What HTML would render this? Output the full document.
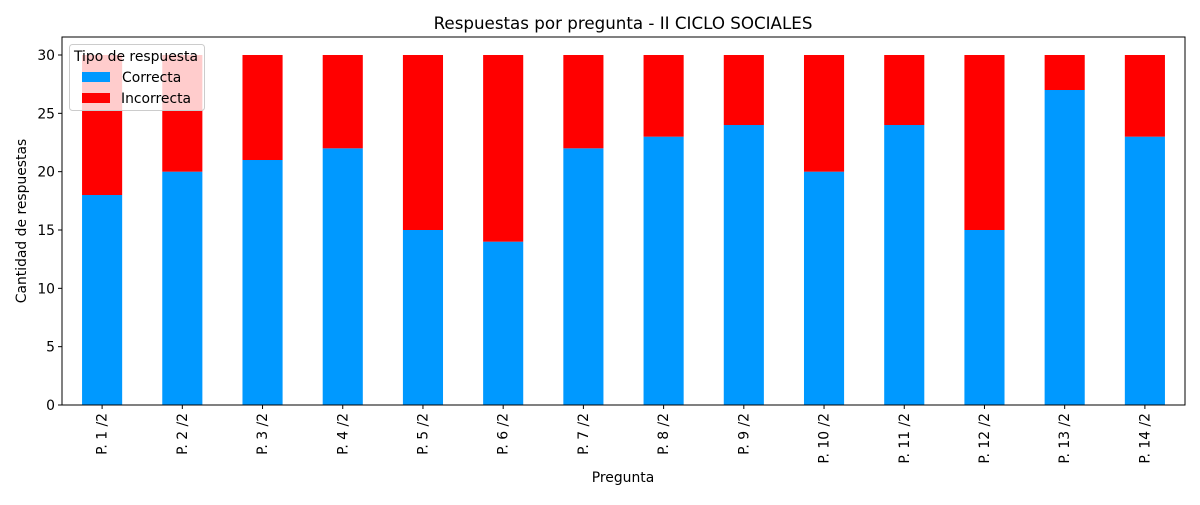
<!DOCTYPE html>
<html><head><meta charset="utf-8"><style>
body{margin:0;background:#fff;}
svg text{font-family:"DejaVu Sans","Liberation Sans",sans-serif;fill:#000;}
</style></head><body>
<svg id="chart" width="1200" height="500" viewBox="0 0 1200 500" xmlns="http://www.w3.org/2000/svg">
<rect width="1200" height="500" fill="#fff"/>
<text x="623" y="29" text-anchor="middle" font-size="16.7">Respuestas por pregunta - II CICLO SOCIALES</text>
<g id="bars"></g>
<g id="axes"></g>
<rect x="62" y="37" width="1123" height="368" fill="none" stroke="#000" stroke-width="1"/>
<text x="623" y="482" text-anchor="middle" font-size="13.9">Pregunta</text>
<text transform="translate(26,221) rotate(-90)" text-anchor="middle" font-size="13.9">Cantidad de respuestas</text>
<g>
<rect x="69.5" y="44.5" width="135" height="66" rx="3" fill="rgba(255,255,255,0.8)" stroke="#ccc"/>
<text x="74" y="61" font-size="13.9">Tipo de respuesta</text>
<rect x="82" y="72" width="28" height="10" fill="#0099ff"/>
<text x="122" y="82" font-size="13.9">Correcta</text>
<rect x="82" y="93" width="28" height="10" fill="#ff0000"/>
<text x="121" y="103" font-size="13.9">Incorrecta</text>
</g>
</svg>
<script>
const categories = ["P. 1 /2","P. 2 /2","P. 3 /2","P. 4 /2","P. 5 /2","P. 6 /2","P. 7 /2","P. 8 /2","P. 9 /2","P. 10 /2","P. 11 /2","P. 12 /2","P. 13 /2","P. 14 /2"];
const correcta = [18,20,21,22,15,14,22,23,24,20,24,15,27,23];
const incorrecta = [12,10,9,8,15,16,8,7,6,10,6,15,3,7];
const yTicks = [0,5,10,15,20,25,30];

const NS="http://www.w3.org/2000/svg";
const left=62,right=1185,top0=37,bottom=405,yMax=31.543;
const slot=(right-left)/categories.length;
const xc=i=>left+slot*(i+0.5);
const y=v=>bottom-v/yMax*(bottom-top0);
const bars=document.getElementById('bars');
const axes=document.getElementById('axes');
function mk(tag,attrs,parent){const e=document.createElementNS(NS,tag);for(const k in attrs)e.setAttribute(k,attrs[k]);parent.appendChild(e);return e;}
categories.forEach((c,i)=>{
  const w=slot*0.5,x=xc(i)-w/2;
  const r1=mk('rect',{x:x,y:y(correcta[i]),width:w,height:y(0)-y(correcta[i]),fill:'#0099ff'},bars);
  
  
  const tot=correcta[i]+incorrecta[i];
  const r2=mk('rect',{x:x,y:y(tot),width:w,height:y(correcta[i])-y(tot),fill:'#ff0000'},bars);
  
  
  mk('line',{x1:xc(i),x2:xc(i),y1:bottom,y2:bottom+4,stroke:'#000'},axes);
  const t=mk('text',{transform:'translate('+(xc(i)+4.5)+','+(bottom+8)+') rotate(-90)','text-anchor':'end','font-size':'13.9'},axes);
  t.textContent=c;
  
  
});
yTicks.forEach(v=>{
  mk('line',{x1:left-4,x2:left,y1:y(v),y2:y(v),stroke:'#000'},axes);
  const t=mk('text',{x:left-7,y:y(v)+5,'text-anchor':'end','font-size':'13.9'},axes);
  t.textContent=v;
  
  
});
</script>
</body></html>
